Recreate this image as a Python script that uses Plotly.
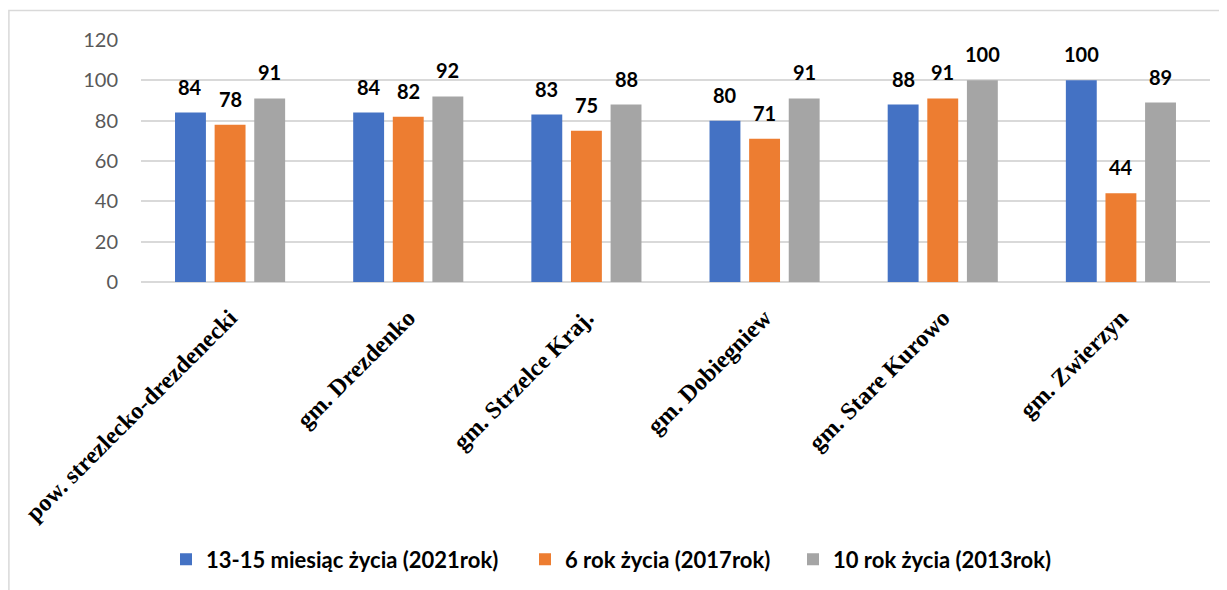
import plotly.graph_objects as go

categories = ["pow. strezlecko-drezdenecki", "gm. Drezdenko", "gm. Strzelce Kraj.",
              "gm. Dobiegniew", "gm. Stare Kurowo", "gm. Zwierzyn"]
series_names = ["13-15 miesiąc życia (2021rok)", "6 rok życia (2017rok)", "10 rok życia (2013rok)"]
vals_2021 = [84, 84, 83, 80, 88, 100]
vals_2017 = [78, 82, 75, 71, 91, 44]
vals_2013 = [91, 92, 88, 91, 100, 89]
colors = ["#4472C4", "#ED7D31", "#A5A5A5"]
y_ticks = [0, 20, 40, 60, 80, 100, 120]

W, H = 1227, 590
OFF = 8  # page body margin
# plot area in page pixels
PL, PR, PT, PB = 141, 1210, 39.5, 282
ML, MT = PL - OFF, PT - OFF
MR, MB = W - (PR - OFF), H - (PB - OFF)
BARGAP, BARGROUPGAP = 0.333, 0.22
PW = PR - PL
PH = PB - PT


def px_x(p):
    return (p - PL) / PW


def px_y(p):
    return (PB - p) / PH


all_vals = [vals_2021, vals_2017, vals_2013]
legend_keys = ["legend", "legend2", "legend3"]
legend_px = [166, 525, 793]

fig = go.Figure()
for i, (name, vals, col) in enumerate(zip(series_names, all_vals, colors)):
    fig.add_trace(go.Bar(x=categories, y=vals, name="<b>" + name + "</b>", marker_color=col,
                         marker_line_width=0, legend=legend_keys[i]))

slot = (1 - BARGAP) * PW / len(categories) / 3
annotations = []
for i, vals in enumerate(all_vals):
    for c, v in zip(categories, vals):
        annotations.append(dict(x=c, y=v, xref="x", yref="y", text="<b>" + str(v) + "</b>",
                                showarrow=False,
                                xshift=(i - 1) * slot, yshift=26, yanchor="middle",
                                font=dict(family="Lato", size=20, color="#000000")))

legend_font = dict(family="Lato", size=22, color="#000000")
legends = {}
for k, xp in zip(legend_keys, legend_px):
    legends[k] = dict(x=px_x(xp), y=px_y(560), xanchor="left", yanchor="middle",
                      orientation="h", font=legend_font, bgcolor="rgba(0,0,0,0)",
                      itemwidth=30)

fig.update_layout(
    width=W, height=H,
    margin=dict(l=ML, r=MR, t=MT, b=MB, autoexpand=False),
    paper_bgcolor="white", plot_bgcolor="white",
    barmode="group", bargap=BARGAP, bargroupgap=BARGROUPGAP,
    showlegend=True,
    annotations=annotations,
    xaxis=dict(type="category", tickangle=-45, showgrid=False, showline=False,
               ticks="", ticklabelstandoff=16, automargin=False,
               tickfont=dict(family="Liberation Serif", size=24, color="#000000", weight="bold")),
    yaxis=dict(range=[0, 120], tickvals=y_ticks, showgrid=True, gridcolor="#D9D9D9", gridwidth=1.5,
               zeroline=True, zerolinecolor="#D9D9D9", zerolinewidth=1.5, showline=False,
               ticks="", ticklabelstandoff=22, automargin=False,
               tickfont=dict(family="Lato", size=20, color="#595959")),
    shapes=[dict(type="rect", xref="paper", yref="paper",
                 x0=px_x(8.9), x1=px_x(1250), y0=px_y(620), y1=px_y(10),
                 line=dict(color="#D9D9D9", width=1.5), layer="below")],
    **legends,
)

fig.write_html("out.html")
